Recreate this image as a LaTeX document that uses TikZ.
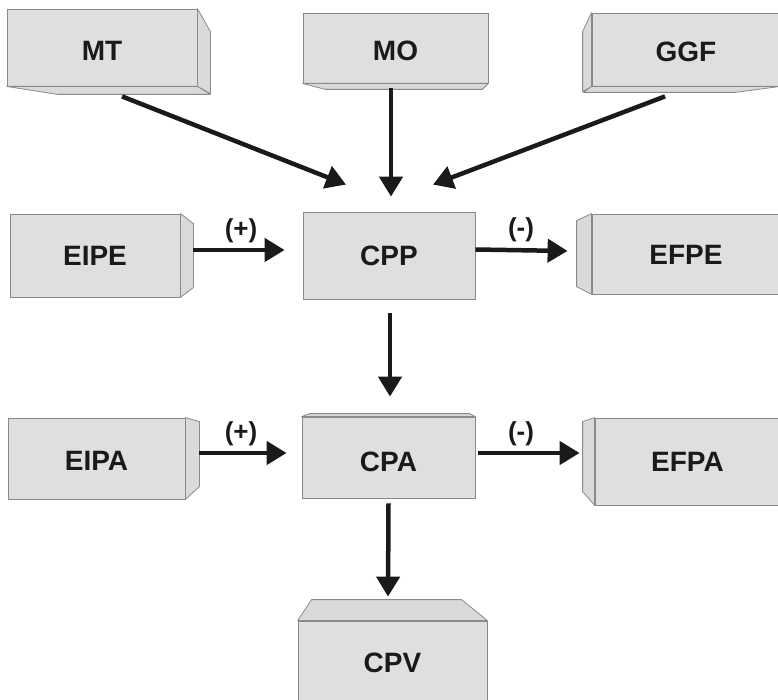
\documentclass[tikz,border=0pt]{standalone}
\usepackage{fontspec}
\setmainfont{Liberation Sans}
\usetikzlibrary{arrows.meta}
\definecolor{boxfill}{HTML}{DFDFDF}
\definecolor{sidefill}{HTML}{DADADA}
\definecolor{boxedge}{HTML}{8A8A8A}
\definecolor{arrowcol}{HTML}{1A1A1A}
\newcommand{\lowertext}[2]{\raisebox{-#1}[\height][\depth]{#2}}
\begin{document}
\begin{tikzpicture}[x=1pt,y=-1pt,
  box/.style={draw=boxedge,fill=boxfill,line width=0.8pt,inner sep=0pt,
    font=\fontsize{28}{30}\selectfont\bfseries,text=arrowcol},
  face/.style={draw=boxedge,fill=sidefill,line width=0.8pt,line join=round},
  arr/.style={draw=arrowcol,line width=4.5pt,-{Triangle[length=20pt,width=23pt]}},
  sign/.style={inner sep=0pt,font=\fontsize{26}{28}\selectfont\bfseries,text=arrowcol}]
\useasboundingbox (0,0) rectangle (778,700);

% front faces
\node[box,minimum width=190pt,minimum height=77pt] (MT) at (102,47.5) {\lowertext{3.5pt}{MT}};
\node[box,minimum width=185pt,minimum height=70pt] (MO) at (395.5,48) {\lowertext{3pt}{MO}};
\node[box,minimum width=188pt,minimum height=73pt] (GGF) at (686,49.5) {\lowertext{2pt}{GGF}};
\node[box,minimum width=170pt,minimum height=83pt] (EIPE) at (95,255.5) {EIPE};
\node[box,minimum width=172pt,minimum height=87pt] (CPP) at (389,255.5) {CPP};
\node[box,minimum width=188pt,minimum height=80pt] (EFPE) at (686,254) {\lowertext{1pt}{EFPE}};
\node[box,minimum width=177pt,minimum height=81pt] (EIPA) at (96.5,458.5) {\lowertext{2.5pt}{EIPA}};
\node[box,minimum width=173pt,minimum height=81pt] (CPA) at (388.5,457.5) {\lowertext{4.5pt}{CPA}};
\node[box,minimum width=185pt,minimum height=87pt] (EFPA) at (687.5,461.5) {EFPA};
\node[box,minimum width=189pt,minimum height=81pt] (CPV) at (392.5,661.5) {\lowertext{1.5pt}{CPV}};

% 3D faces
\path[face] (MT.north east) -- ++(13,23) -- ++(0,62) -- (MT.south east) -- cycle;
\path[face] (MT.south west) -- (MT.south east) -- ++(13,8) -- ++(-153,0) -- cycle;
\path[face] (MO.south west) -- (MO.south east) -- ++(-6,6) -- ++(-157,0) -- cycle;
\path[face] (GGF.north west) -- ++(-9,19) -- ++(0,60) -- (GGF.south west) -- cycle;
\path[face] (GGF.south west) -- (GGF.south east) -- ++(-45,6) -- ++(-152,0) -- cycle;
\path[face] (EIPE.north east) -- ++(13,10) -- ++(0,64) -- (EIPE.south east) -- cycle;
\path[face] (EFPE.north west) -- ++(-15,7) -- ++(0,66) -- (EFPE.south west) -- cycle;
\path[face] (EIPA.north east) -- ++(14,4) -- ++(0,65) -- (EIPA.south east) -- cycle;
\path[face] (CPA.north west) -- ++(8,-3) -- ++(160,0) -- (CPA.north east) -- cycle;
\path[face] (EFPA.north west) -- ++(-12,4) -- ++(0,70) -- (EFPA.south west) -- cycle;
\path[face] (CPV.north west) -- ++(14,-21) -- ++(150,0) -- (CPV.north east) -- cycle;

% connectors
\draw[arr] ([shift={(20,10)}]MT.south) -- ([shift={(-43,-27)}]CPP.north);
\draw[arr] ([shift={(-4.5,5)}]MO.south) -- ([shift={(2,-15)}]CPP.north);
\draw[arr] ([shift={(-21,10)}]GGF.south) -- ([shift={(44,-27)}]CPP.north);
\draw[arr] ([shift={(13,-5.5)}]EIPE.east) -- ([shift={(-18,-5.5)}]CPP.west);
\draw[arr] ([shift={(0,-6)}]CPP.east) -- ([shift={(-24,-3)}]EFPE.west);
\draw[arr] ([shift={(1,14)}]CPP.south) -- ([shift={(1.5,-20)}]CPA.north);
\draw[arr] ([shift={(14,-5.5)}]EIPA.east) -- ([shift={(-15,-4.5)}]CPA.west);
\draw[arr] ([shift={(3,-4.5)}]CPA.east) -- ([shift={(-15,-8.5)}]EFPA.west);
\draw[arr] ([shift={(0,5)}]CPA.south) -- ([shift={(-4.5,-24)}]CPV.north);

% signs
\node[sign] (s1) at (241,231) {(+)};
\node[sign] (s2) at (521,230) {(-)};
\node[sign] (s3) at (241,434) {(+)};
\node[sign] (s4) at (521,434) {(-)};
\end{tikzpicture}
\end{document}
